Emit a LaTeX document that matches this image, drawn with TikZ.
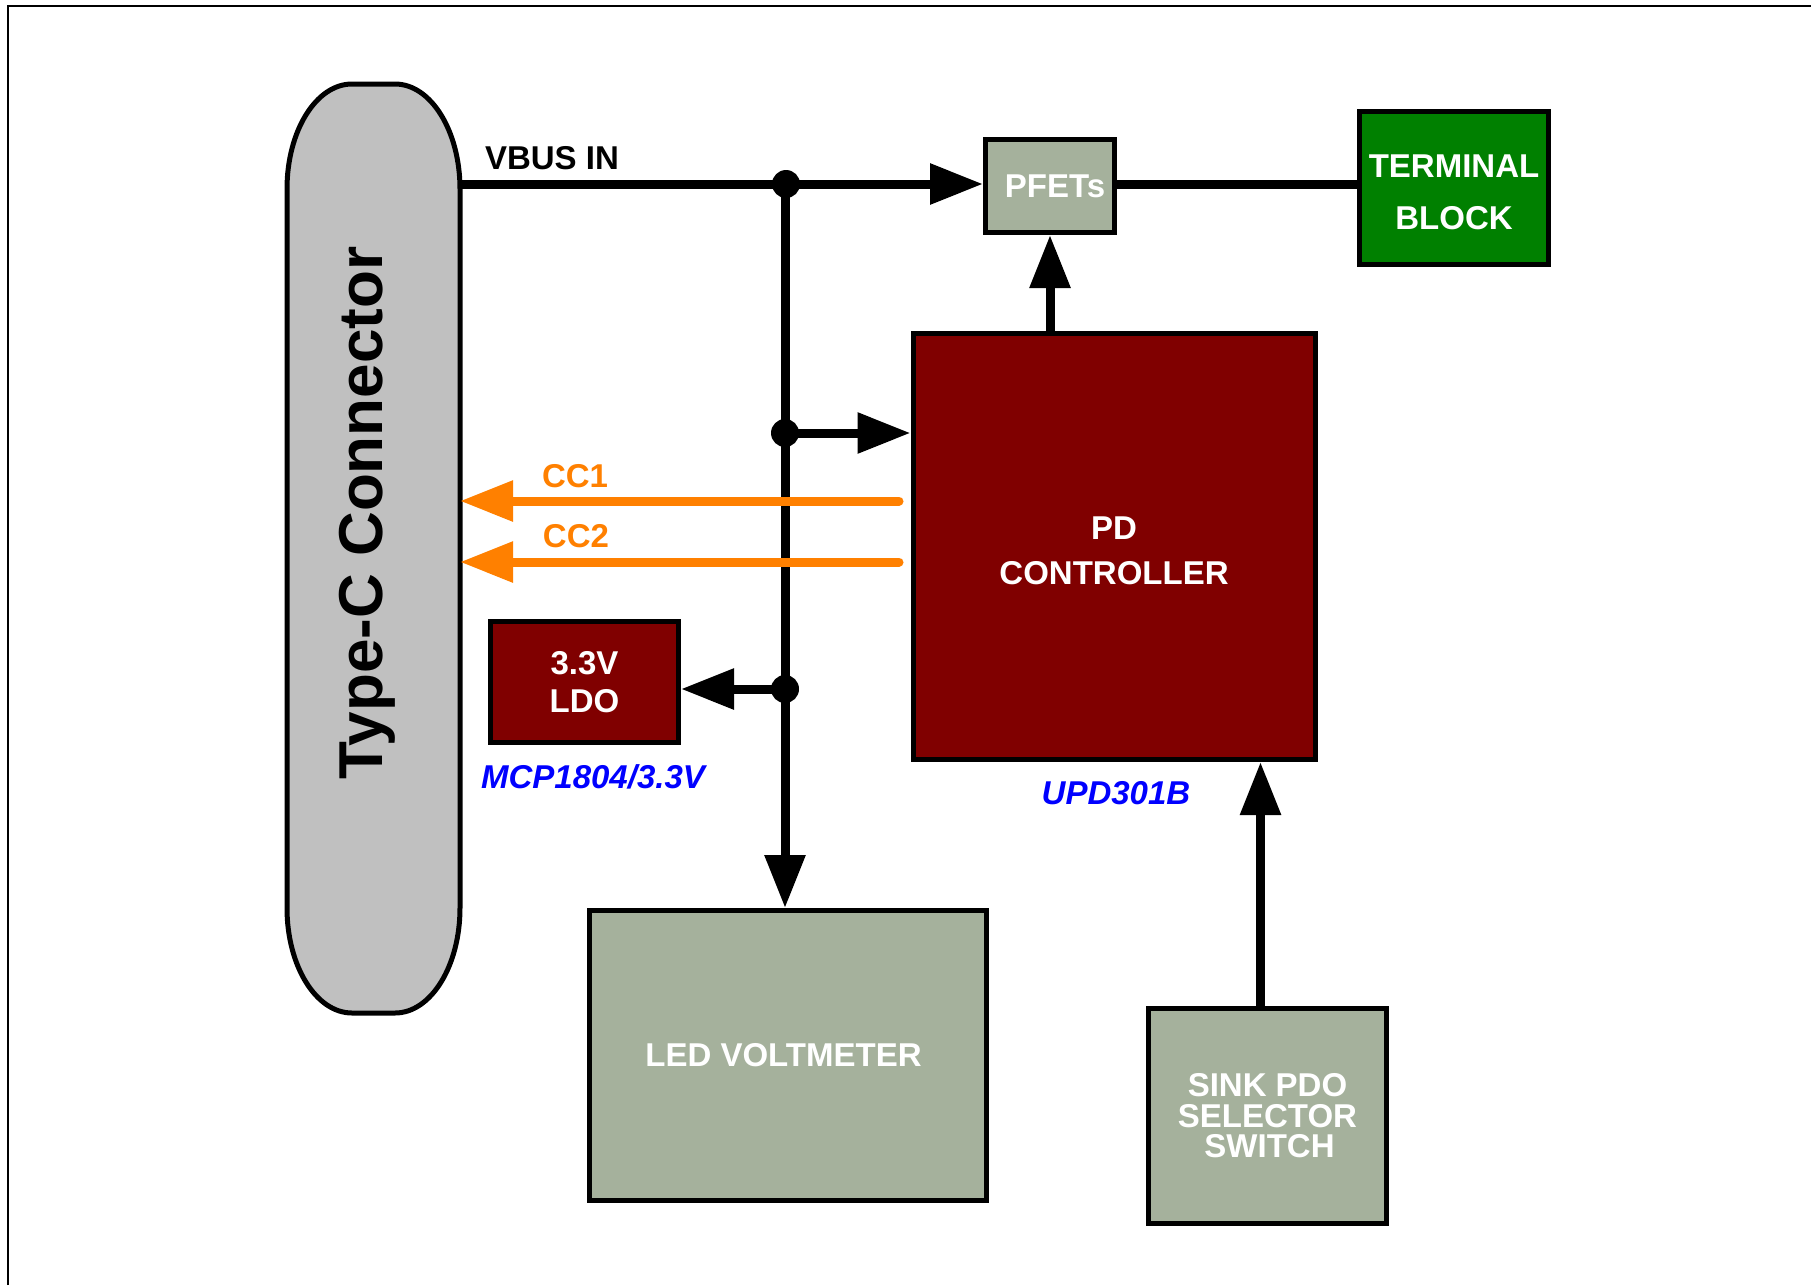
\documentclass[tikz,border=0pt]{standalone}
\usepackage{fontspec}
\setmainfont{Liberation Sans}
\usetikzlibrary{arrows.meta,calc}

\definecolor{sage}{HTML}{A5B19C}
\definecolor{chipred}{HTML}{800000}
\definecolor{termgreen}{HTML}{008000}
\definecolor{plug}{HTML}{C0C0C0}
\definecolor{ccorange}{HTML}{FF8000}
\definecolor{partblue}{HTML}{0000FF}

\tikzset{
  block/.style={draw=black, line width=5pt, text=white, inner sep=0pt,
    align=center, font=\bfseries\fontsize{33pt}{40pt}\selectfont},
  wire/.style={draw=black, line width=9pt, line cap=round},
  ccwire/.style={draw=ccorange, line width=9pt, line cap=round},
  arrowed/.style={-{Triangle[length=53pt,width=39pt]}},
  junction/.style={circle, fill=black, minimum size=28pt, inner sep=0pt, outer sep=0pt},
  wirelabel/.style={anchor=base, inner sep=0pt, font=\bfseries\fontsize{33pt}{40pt}\selectfont},
  partlabel/.style={anchor=base, inner sep=0pt, text=partblue,
    font=\bfseries\itshape\fontsize{33pt}{40pt}\selectfont},
}

\begin{document}
\begin{tikzpicture}[x=1pt, y=-1pt]
\useasboundingbox (0,0) rectangle (1811,1285);

% outer frame
\draw[line width=2.5pt] (8,1285) -- (8,6) -- (1811,6);

% Type-C receptacle outline
\node (tc) [minimum width=173pt, minimum height=929pt, inner sep=0pt, outer sep=0pt] at (373.5,548.5) {};
\draw[fill=plug, line width=5pt]
  (287,908) -- (287,189)
  arc[start angle=180, end angle=270, x radius=65, y radius=105] -- (395,84)
  arc[start angle=270, end angle=360, x radius=65, y radius=105] -- (460,908)
  arc[start angle=0, end angle=90, x radius=65, y radius=105] -- (352,1013)
  arc[start angle=90, end angle=180, x radius=65, y radius=105] -- cycle;
\node (tclabel) [anchor=base, rotate=90, inner sep=0pt,
  font=\bfseries\fontsize{62pt}{62pt}\selectfont] at (382,513) {Type-C Connector};

% blocks
\node (pfets) [block, fill=sage, minimum width=129pt, minimum height=93pt] at (1050,186) {\hspace*{10pt}PFETs};
\node (terminal) [block, fill=termgreen, minimum width=189pt, minimum height=153pt,
  font=\bfseries\fontsize{33pt}{52pt}\selectfont] at (1454,188) {\rule{0pt}{32pt}TERMINAL\\BLOCK};
\node (pd) [block, fill=chipred, minimum width=402pt, minimum height=426pt,
  font=\bfseries\fontsize{33pt}{45pt}\selectfont] at (1114,546.5) {\rule{0pt}{31pt}PD\\CONTROLLER};
\node (ldo) [block, fill=chipred, minimum width=188pt, minimum height=121pt,
  font=\bfseries\fontsize{33pt}{38pt}\selectfont] at (584.5,682) {3.3V\\LDO};
\node (led) [block, fill=sage, minimum width=397pt, minimum height=290pt] at (788,1055.5) {LED VOLTMETER\hspace*{9pt}};
\node (sink) [block, fill=sage, minimum width=238pt, minimum height=215pt,
  font=\bfseries\fontsize{33pt}{30.5pt}\selectfont] at (1267.5,1116) {SINK PDO\\SELECTOR\\\hspace*{4pt}SWITCH};

% part numbers
\node (ldopart) [partlabel] at (593,788) {MCP1804/3.3V};
\node (pdpart) [partlabel] at (1116,804) {UPD301B};

% VBUS distribution
\node (j1) [junction] at (786,184) {};
\node (j2) [junction] at (785,433) {};
\node (j3) [junction] at (785,689) {};
\coordinate (sinkup) at ([xshift=-7pt]sink.north);

\draw[wire, line cap=butt, arrowed] (j1 -| tc.east) -- (j1 -| pfets.west);
\draw[wire, arrowed] (j2.center |- j1) -- (j2.center |- led.north);
\draw[wire, arrowed] (j2.center) -- (j2 -| pd.west);
\draw[wire, arrowed] (j3.center) -- (j3 -| ldo.east);
\draw[wire, arrowed] (pfets.south |- pd.north) -- (pfets.south);
\draw[wire] (pfets.east |- j1) -- (terminal.west |- j1);
\draw[wire, arrowed] (sinkup) -- (sinkup |- pd.south);

\node (vbus) [wirelabel] at (552,169) {VBUS IN};

% configuration channel lines
\coordinate (cc1start) at (899,501);
\coordinate (cc2start) at (899,562);
\draw[ccwire, arrowed] (cc1start) -- (cc1start -| tc.east);
\draw[ccwire, arrowed] (cc2start) -- (cc2start -| tc.east);
\node (cc1) [wirelabel, text=ccorange] at (575,487) {CC1};
\node (cc2) [wirelabel, text=ccorange] at (576,547) {CC2};
\end{tikzpicture}
\end{document}
